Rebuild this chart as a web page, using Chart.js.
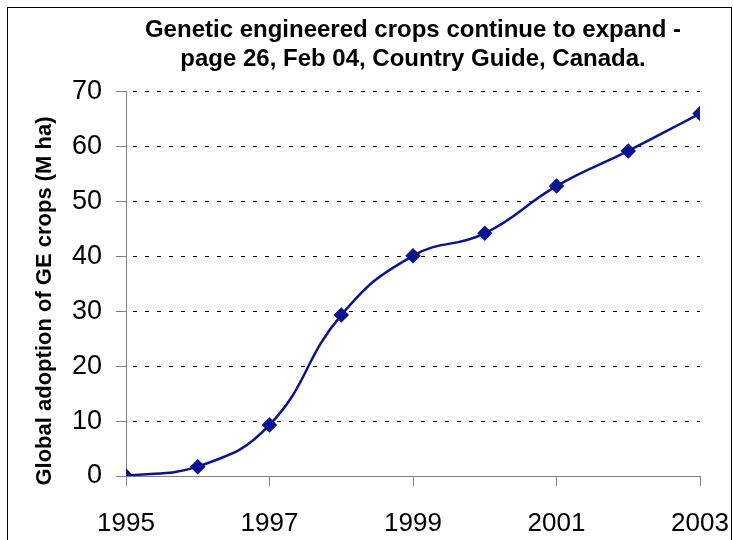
<!DOCTYPE html>
<html>
<head>
<meta charset="utf-8">
<script src="https://cdn.jsdelivr.net/npm/chart.js@4/dist/chart.umd.min.js"></script>
<style>
  body { margin: 0; background: #fff; }
  #wrap { position: relative; width: 733px; height: 540px; }
</style>
</head>
<body>
<div id="wrap"><canvas id="myChart"></canvas></div>
<script>
const years = [1995, 1996, 1997, 1998, 1999, 2000, 2001, 2002, 2003];
const adoption = [0, 1.7, 9.3, 29.3, 40.1, 44.2, 52.8, 59.2, 66.0];
const titleLines = [
  "Genetic engineered crops continue to expand -",
  "page 26, Feb 04, Country Guide, Canada."
];
const yLabel = "Global adoption of GE crops (M ha)";

const lineColor = "#0a1490";
const axisGray = "#808080";

// outer frame + y axis label (sits a bit lower than the axis middle in the original)
const extrasPlugin = {
  id: "extras",
  afterDraw(chart) {
    const ctx = chart.ctx;
    ctx.save();
    ctx.strokeStyle = "#000";
    ctx.lineWidth = 1;
    ctx.strokeRect(7.5, 7.5, 724, 560);

    ctx.translate(45, 301);
    ctx.rotate(-Math.PI / 2);
    ctx.font = "bold 22px 'Liberation Sans', Arial";
    ctx.fillStyle = "#000";
    ctx.textAlign = "center";
    ctx.textBaseline = "middle";
    ctx.fillText(yLabel, 0, 0);
    ctx.restore();
  }
};

const points = years.map((y, i) => ({ x: y, y: adoption[i] }));

const config = {
  type: "line",
  data: {
    datasets: [{
      data: points,
      borderColor: lineColor,
      backgroundColor: lineColor,
      borderWidth: 2.5,
      tension: 0.45,
      pointStyle: "rectRot",
      pointRadius: 6,
      pointHoverRadius: 6
    }]
  },
  options: {
    responsive: true,
    maintainAspectRatio: false,
    animation: false,
    layout: { padding: { left: 32, right: 33, top: 16, bottom: 0 } },
    plugins: {
      legend: { display: false },
      tooltip: { enabled: false },
      title: {
        display: true,
        fullSize: false,
        text: titleLines,
        color: "#000",
        font: { family: "Liberation Sans, Arial", size: 24, weight: "bold", lineHeight: 1.2 },
        padding: { top: 0, bottom: 18 }
      }
    },
    scales: {
      x: {
        type: "linear",
        min: 1995,
        max: 2003,
        afterFit(scale) {
          scale.height = 64;
          scale.paddingLeft = 0;
          scale.paddingRight = 0;
        },
        ticks: {
          stepSize: 2,
          color: "#000",
          font: { family: "Liberation Sans, Arial", size: 26 },
          padding: 22,
          maxRotation: 0,
          callback: (v) => String(v)
        },
        grid: {
          drawOnChartArea: false,
          tickLength: 10,
          color: axisGray
        },
        border: { color: axisGray, width: 1 }
      },
      y: {
        min: 0,
        max: 70,
        afterFit(scale) { scale.width = 94; },
        ticks: {
          stepSize: 10,
          color: "#000",
          font: { family: "Liberation Sans, Arial", size: 27 },
          padding: 14
        },
        grid: {
          color: (ctx) => (ctx.tick && ctx.tick.value === 0 ? "rgba(0,0,0,0)" : "#000"),
          tickColor: axisGray,
          tickLength: 10
        },
        border: { color: axisGray, width: 1, dash: [4, 8], dashOffset: -6 }
      }
    }
  },
  plugins: [extrasPlugin]
};

const chart = new Chart(document.getElementById("myChart"), config);
</script>
</body>
</html>
